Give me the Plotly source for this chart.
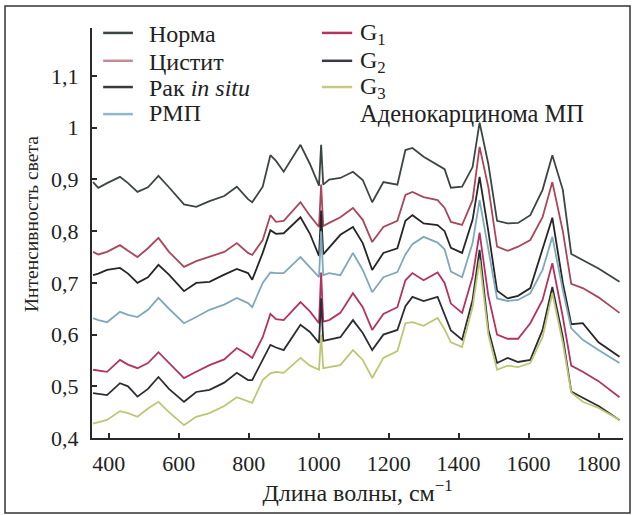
import plotly.graph_objects as go

# wavenumber grid, cm-1
wavenumber = [355, 370, 395, 432, 455, 482, 512, 542, 572, 615, 650, 688, 730, 766, 798, 810,
              840, 862, 878, 900, 948, 975, 1001, 1007, 1013, 1030, 1062, 1098, 1126, 1153, 1185,
              1225, 1248, 1268, 1300, 1340, 1360, 1378, 1410, 1440, 1460, 1485, 1510, 1540, 1570,
              1605, 1640, 1668, 1698, 1722, 1755, 1800, 1860]

norma = [0.895, 0.884, 0.893, 0.905, 0.893, 0.876, 0.885, 0.907, 0.885, 0.852, 0.847, 0.858, 0.868,
         0.886, 0.862, 0.856, 0.886, 0.947, 0.936, 0.915, 0.967, 0.930, 0.888, 0.967, 0.890, 0.900,
         0.903, 0.915, 0.899, 0.856, 0.895, 0.890, 0.957, 0.961, 0.944, 0.928, 0.920, 0.884, 0.886,
         0.924, 1.010, 0.930, 0.820, 0.815, 0.816, 0.831, 0.880, 0.947, 0.880, 0.756, 0.744, 0.728,
         0.702]
cystitis = [0.760, 0.755, 0.760, 0.773, 0.762, 0.750, 0.767, 0.787, 0.760, 0.731, 0.742, 0.750, 0.760,
            0.777, 0.758, 0.754, 0.783, 0.831, 0.818, 0.820, 0.856, 0.830, 0.808, 0.890, 0.810, 0.816,
            0.827, 0.845, 0.822, 0.779, 0.808, 0.820, 0.870, 0.876, 0.866, 0.860, 0.845, 0.818, 0.812,
            0.860, 0.963, 0.885, 0.770, 0.762, 0.770, 0.783, 0.827, 0.895, 0.800, 0.698, 0.690, 0.672,
            0.642]
cancer_in_situ = [0.715, 0.718, 0.725, 0.729, 0.718, 0.700, 0.711, 0.735, 0.716, 0.684, 0.700, 0.702, 0.716,
                  0.727, 0.719, 0.706, 0.758, 0.802, 0.795, 0.796, 0.827, 0.795, 0.752, 0.840, 0.755, 0.768,
                  0.793, 0.808, 0.777, 0.725, 0.758, 0.767, 0.820, 0.831, 0.815, 0.812, 0.800, 0.768, 0.758,
                  0.822, 0.905, 0.800, 0.685, 0.670, 0.675, 0.690, 0.764, 0.826, 0.700, 0.620, 0.622, 0.585,
                  0.557]
rmp = [0.632, 0.628, 0.624, 0.644, 0.638, 0.634, 0.648, 0.671, 0.650, 0.622, 0.634, 0.648, 0.658,
       0.671, 0.661, 0.653, 0.700, 0.720, 0.719, 0.719, 0.750, 0.731, 0.711, 0.800, 0.715, 0.719,
       0.715, 0.758, 0.725, 0.682, 0.711, 0.721, 0.755, 0.775, 0.789, 0.778, 0.765, 0.722, 0.711,
       0.777, 0.860, 0.765, 0.670, 0.665, 0.667, 0.680, 0.725, 0.789, 0.686, 0.612, 0.590, 0.570,
       0.545]
g1 = [0.532, 0.530, 0.528, 0.551, 0.542, 0.535, 0.545, 0.566, 0.546, 0.516, 0.528, 0.541, 0.552,
      0.574, 0.561, 0.555, 0.595, 0.640, 0.630, 0.628, 0.663, 0.645, 0.622, 0.720, 0.625, 0.628,
      0.642, 0.680, 0.653, 0.609, 0.640, 0.653, 0.705, 0.719, 0.705, 0.720, 0.700, 0.660, 0.642,
      0.712, 0.797, 0.675, 0.600, 0.592, 0.592, 0.622, 0.667, 0.738, 0.634, 0.540, 0.528, 0.510,
      0.479]
g2 = [0.487, 0.485, 0.483, 0.506, 0.500, 0.480, 0.495, 0.518, 0.495, 0.470, 0.489, 0.493, 0.507,
      0.526, 0.512, 0.512, 0.551, 0.580, 0.575, 0.570, 0.619, 0.605, 0.584, 0.670, 0.588, 0.590,
      0.595, 0.628, 0.603, 0.570, 0.600, 0.609, 0.655, 0.673, 0.665, 0.673, 0.640, 0.608, 0.590,
      0.667, 0.764, 0.610, 0.545, 0.555, 0.547, 0.551, 0.609, 0.692, 0.595, 0.490, 0.478, 0.462,
      0.435]
g3 = [0.428, 0.431, 0.435, 0.452, 0.448, 0.441, 0.457, 0.470, 0.450, 0.425, 0.441, 0.448, 0.462,
      0.479, 0.470, 0.468, 0.512, 0.525, 0.528, 0.526, 0.555, 0.540, 0.532, 0.600, 0.535, 0.537,
      0.541, 0.570, 0.551, 0.516, 0.555, 0.568, 0.622, 0.624, 0.617, 0.632, 0.610, 0.585, 0.576,
      0.653, 0.744, 0.600, 0.532, 0.540, 0.537, 0.545, 0.595, 0.680, 0.584, 0.488, 0.470, 0.458,
      0.435]

y_tickvals = [0.4, 0.5, 0.6, 0.7, 0.8, 0.9, 1.0, 1.1]
y_ticktext = ['0,4', '0,5', '0,6', '0,7', '0,8', '0,9', '1', '1,1']
x_tickvals = [400, 600, 800, 1000, 1200, 1400, 1600, 1800]

left_names = ['Норма', 'Цистит', 'Рак <i>in situ</i>', 'РМП']
right_names = ['G<sub>1</sub>', 'G<sub>2</sub>', 'G<sub>3</sub>']

series = [
    (norma, '#3c4543'),
    (cystitis, '#a8475a'),
    (cancer_in_situ, '#262626'),
    (rmp, '#7fa9ba'),
    (g1, '#b3325f'),
    (g2, '#2c2c34'),
    (g3, '#bfc673'),
]
left_colors = ['#3c4543', '#c48a96', '#3a3a3a', '#8fb8cc']
right_colors = ['#b3325f', '#3a3a42', '#c4c984']

FONT = 'Liberation Serif'
TXT = '#222'

fig = go.Figure()
for vals, col in series:
    fig.add_trace(go.Scatter(x=wavenumber, y=vals, mode='lines',
                             line=dict(color=col, width=1.8), showlegend=False))

# legend drawn by hand: two columns
row_y = [0.985, 0.917, 0.854, 0.793]
line_y = [0.988, 0.920, 0.856, 0.790]
shapes = []
annotations = []
for i, name in enumerate(left_names):
    shapes.append(dict(type='line', xref='paper', yref='paper', x0=0.021, x1=0.077,
                       y0=line_y[i], y1=line_y[i], line=dict(color=left_colors[i], width=2.5)))
    annotations.append(dict(text=name, xref='paper', yref='paper', x=0.1035, y=row_y[i],
                            xanchor='left', yanchor='middle', showarrow=False,
                            font=dict(family=FONT, size=24, color=TXT)))
for i, name in enumerate(right_names):
    shapes.append(dict(type='line', xref='paper', yref='paper', x0=0.433, x1=0.490,
                       y0=line_y[i], y1=line_y[i], line=dict(color=right_colors[i], width=2.5)))
    annotations.append(dict(text=name, xref='paper', yref='paper', x=0.5015, y=row_y[i],
                            xanchor='left', yanchor='middle', showarrow=False,
                            font=dict(family=FONT, size=24, color=TXT)))
annotations.append(dict(text='Аденокарцинома МП', xref='paper', yref='paper', x=0.5015, y=0.792,
                        xanchor='left', yanchor='middle', showarrow=False,
                        font=dict(family=FONT, size=24.5, color=TXT)))

# y title as rotated text, placed like the original
annotations.append(dict(text='Интенсивность света', xref='paper', yref='paper', x=-0.113, y=0.522,
                        xanchor='center', yanchor='middle', textangle=-90, showarrow=False,
                        font=dict(family=FONT, size=19.5, color=TXT)))

# outer frame
shapes.append(dict(type='rect', xref='paper', yref='paper', x0=-0.1638, x1=1.0132,
                   y0=-0.1829, y1=1.0537, line=dict(color='#333', width=1.5)))

fig.update_layout(
    width=633, height=515,
    margin=dict(l=92, r=10, t=28, b=77),
    paper_bgcolor='white', plot_bgcolor='white',
    shapes=shapes, annotations=annotations,
    xaxis=dict(range=[352, 1870], tickvals=x_tickvals, showgrid=False, zeroline=False,
               showline=True, linecolor='#2a2a2a', linewidth=2, ticks='inside', ticklen=5,
               tickcolor='#2a2a2a', tickwidth=1.5, tickfont=dict(family=FONT, size=22, color=TXT),
               ticklabelstandoff=5, automargin=False,
               title=dict(text='Длина волны, см<sup>−1</sup>',
                          font=dict(family=FONT, size=24, color=TXT), standoff=5)),
    yaxis=dict(range=[0.4, 1.193], tickvals=y_tickvals, ticktext=y_ticktext, showgrid=False,
               zeroline=False, showline=True, linecolor='#2a2a2a', linewidth=2, ticks='inside',
               ticklen=5, tickcolor='#2a2a2a', tickwidth=1.5,
               tickfont=dict(family=FONT, size=22, color=TXT),
               ticklabelstandoff=7, automargin=False),
)

# page body has a default 8px margin; drop it so the figure sits at the window corner
fig.write_html("out.html", config={'displayModeBar': False},
               post_script="document.body.style.margin='0px';")
